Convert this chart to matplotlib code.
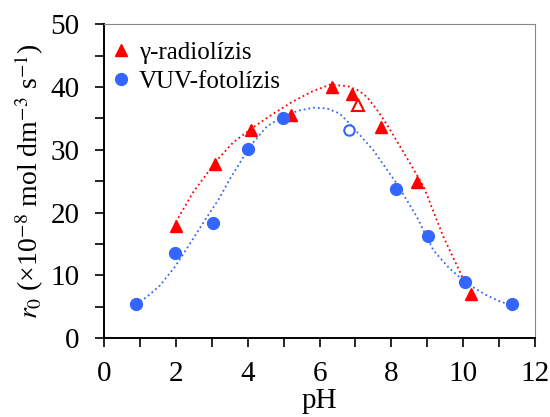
import matplotlib
matplotlib.use("Agg")
import matplotlib.pyplot as plt
from matplotlib.ticker import MultipleLocator

plt.rcParams['font.family'] = 'serif'
plt.rcParams['font.serif'] = ['Liberation Serif', 'DejaVu Serif']
plt.rcParams['mathtext.fontset'] = 'stix'

# gamma-radiolysis, filled triangles
gam_ph = [2.0, 3.1, 4.1, 5.2, 6.35, 6.9, 7.7, 8.7, 10.22]
gam_r0 = [17.9, 27.7, 33.2, 35.6, 40.0, 38.9, 33.6, 24.9, 7.1]
gam_open_ph = [7.06]
gam_open_r0 = [37.1]

# VUV-photolysis, filled circles
vuv_ph = [0.88, 1.98, 3.03, 4.0, 4.99, 8.12, 9.02, 10.06, 11.36]
vuv_r0 = [5.4, 13.5, 18.4, 30.1, 35.1, 23.7, 16.3, 8.9, 5.4]
vuv_open_ph = [6.82]
vuv_open_r0 = [33.1]

# fitted curves
gam_fit_ph = [2.0, 2.5, 3.14, 3.6, 4.16, 4.7, 5.23, 5.8, 6.3, 6.8, 7.1, 7.32, 7.62, 7.92,
              8.4, 8.9, 9.45, 10.05]
gam_fit_r0 = [18.5, 23.4, 28.3, 31.2, 33.6, 35.7, 37.6, 39.3, 40.4, 40.1, 39.4, 38.4, 36.2, 33.6,
              29.0, 24.1, 16.1, 8.8]
vuv_fit_ph = [0.9, 1.2, 1.56, 1.98, 2.4, 2.81, 3.18, 3.5, 3.79, 4.1, 4.53, 5.0, 5.46, 5.83,
              6.2, 6.55, 6.85, 7.5, 8.15, 8.71, 9.17, 9.6, 10.0, 10.33, 10.66, 11.0, 11.31]
vuv_fit_r0 = [5.4, 6.6, 8.4, 11.4, 15.1, 18.8, 22.0, 25.3, 28.0, 30.8, 33.7, 35.4, 36.3, 36.7,
              36.6, 35.8, 34.1, 29.9, 24.6, 19.3, 14.0, 11.2, 9.2, 7.9, 6.8, 5.9, 5.3]

red = '#ff0000'
blue = '#3366ff'

fig = plt.figure(figsize=(5.5, 4.17), dpi=100)
ax = fig.add_axes([0.189, 0.189, 0.784, 0.753])

ax.plot(gam_fit_ph, gam_fit_r0, ':', color=red, lw=1.3)
ax.plot(vuv_fit_ph, vuv_fit_r0, ':', color=blue, lw=1.3)

ax.plot(gam_ph, gam_r0, '^', color=red, ms=9, mec=red, label='γ-radiolízis', ls='none')
ax.plot(vuv_ph, vuv_r0, 'o', color=blue, ms=8.5, mec=blue, label='VUV-fotolízis', ls='none')
ax.plot(gam_open_ph, gam_open_r0, '^', mfc='white', mec=red, mew=1.5, ms=8, ls='none')
ax.plot(vuv_open_ph, vuv_open_r0, 'o', mfc='white', mec=blue, mew=1.5, ms=7.5, ls='none')

ax.set_xlim(0, 12)
ax.set_ylim(0, 50)
ax.xaxis.set_major_locator(MultipleLocator(2))
ax.xaxis.set_minor_locator(MultipleLocator(1))
ax.yaxis.set_major_locator(MultipleLocator(10))
ax.yaxis.set_minor_locator(MultipleLocator(5))
ax.tick_params(which='both', direction='out', length=6.5, width=1.2, labelsize=21,
               top=False, right=False)
ax.tick_params(axis='x', pad=10)
ax.tick_params(axis='y', pad=11)

for s in ['top', 'right']:
    ax.spines[s].set_color('#888888')
for s in ['left', 'bottom']:
    ax.spines[s].set_linewidth(1.4)

ax.set_xlabel('pH', fontsize=21, labelpad=1)
ax.set_ylabel(r'$r_0$ (×10$^{-8}$ mol dm$^{-3}$ s$^{-1}$)', fontsize=20, labelpad=3)

ax.legend(loc='upper left', bbox_to_anchor=(-0.035, 1.0), frameon=False, fontsize=18,
          handletextpad=0.1, handlelength=1.2, borderaxespad=0.3, labelspacing=0.25)

fig.savefig('out.png', dpi=100)
